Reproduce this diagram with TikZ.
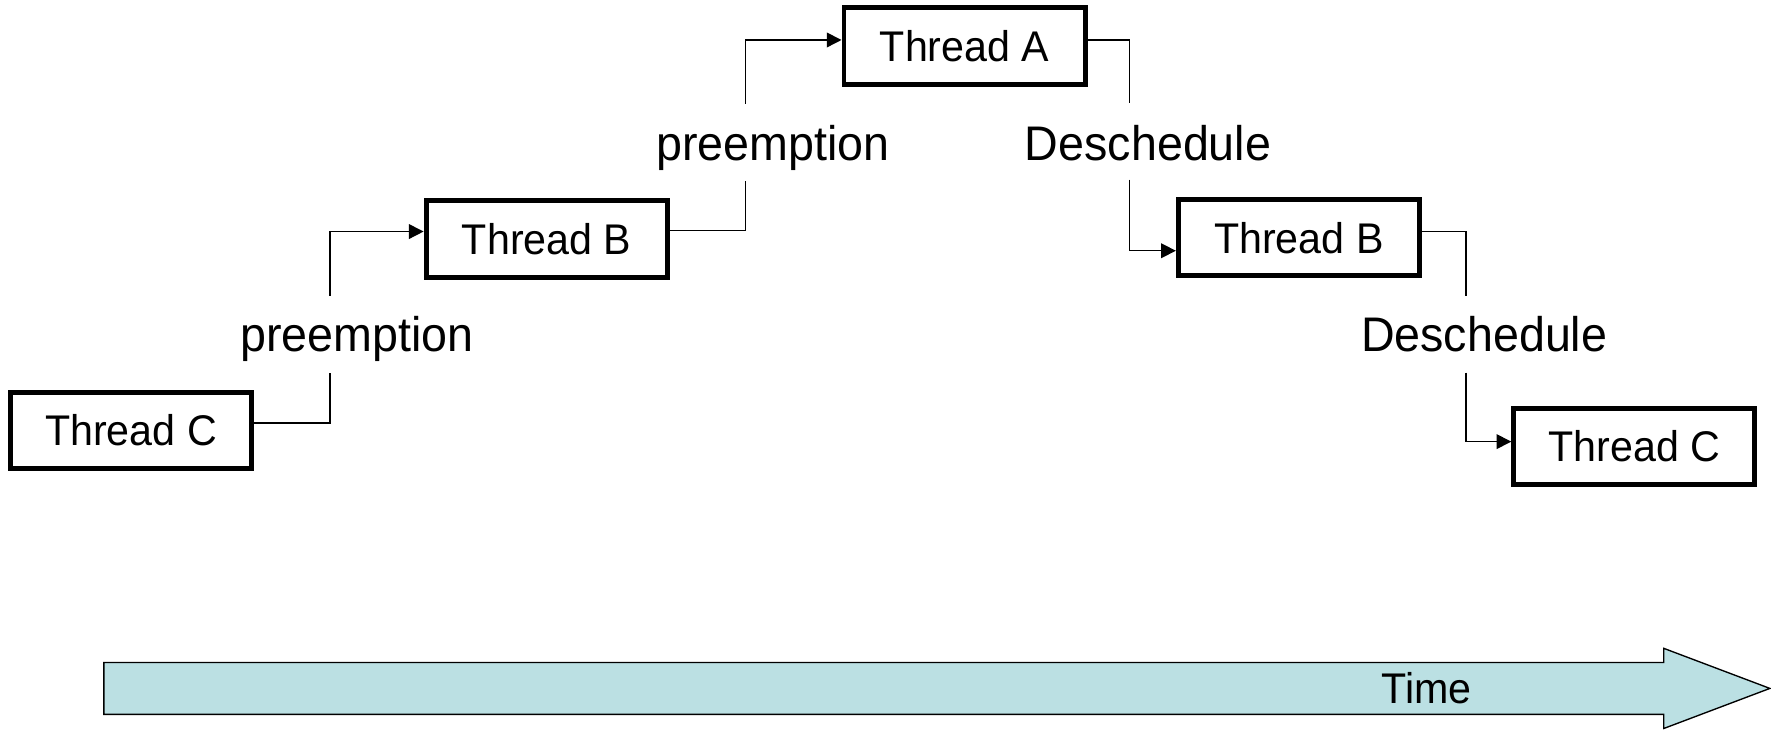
\documentclass[tikz,border=0pt]{standalone}
\usepackage{fontspec}
\setmainfont{Liberation Sans}[FakeStretch=0.96]
\usetikzlibrary{arrows.meta}
\definecolor{timefill}{HTML}{BBE0E3}
\begin{document}
\begin{tikzpicture}[x=1pt,y=-1pt,
  thread/.style={draw=black, line width=4.4pt, minimum width=213.5pt,
    minimum height=67.5pt, inner sep=0pt, font=\fontsize{38}{44}\selectfont},
  event/.style={inner sep=0pt, anchor=base, font=\fontsize{43}{50}\selectfont},
  wire/.style={line width=1.3pt},
  feed/.style={wire, -{Triangle[length=13pt,width=13pt]}},
]
\useasboundingbox (0,0) rectangle (1568,647);

% thread boxes
\node[thread] (tc1) at (116,381)    {Thread C};
\node[thread] (tb1) at (484,211.6)  {Thread B};
\node[thread] (ta)  at (854,40.7)   {Thread A};
\node[thread] (tb2) at (1150,210.5) {Thread B};
\node[thread] (tc2) at (1447,395)   {Thread C};

% switch labels
\node[event] (p1) at (316,311.6)    {preemption};
\node[event] (p2) at (684.5,141.7)  {preemption};
\node[event] (d1) at (1016.5,141.7) {Deschedule};
\node[event] (d2) at (1314,311.6)   {Deschedule};

% ends of the vertical runs around each label
\coordinate (p1lo) at (292,330);  \coordinate (p1hi) at (292,262);
\coordinate (p2lo) at (660,160);  \coordinate (p2hi) at (660,92);
\coordinate (d1hi) at (1000,91);  \coordinate (d1lo) at (1000,159);
\coordinate (d2hi) at (1298,262); \coordinate (d2lo) at (1298,330);

% connectors
\draw[wire] ([yshift=6.5pt]tc1.east) -| (p1lo);
\draw[feed] (p1hi) |- ([yshift=6.6pt]tb1.west);
\draw[wire] ([yshift=7.4pt]tb1.east) -| (p2lo);
\draw[feed] (p2hi) |- ([yshift=5.3pt]ta.west);
\draw[wire] ([yshift=5.3pt]ta.east) -| (d1hi);
\draw[feed] (d1lo) |- ([yshift=-11.5pt]tb2.west);
\draw[wire] ([yshift=5.5pt]tb2.east) -| (d2hi);
\draw[feed] (d2lo) |- ([yshift=4pt]tc2.west);

% time arrow
\draw[fill=timefill, line width=1.2pt, line join=miter]
  (92,586.5) -- (1473,586.5) -- (1473,574) -- (1567,609.5)
  -- (1473,645) -- (1473,632.5) -- (92,632.5) -- cycle;
\node[inner sep=0pt, font=\fontsize{38}{44}\selectfont] (time) at (1263,609.5) {Time};
\end{tikzpicture}
\end{document}
